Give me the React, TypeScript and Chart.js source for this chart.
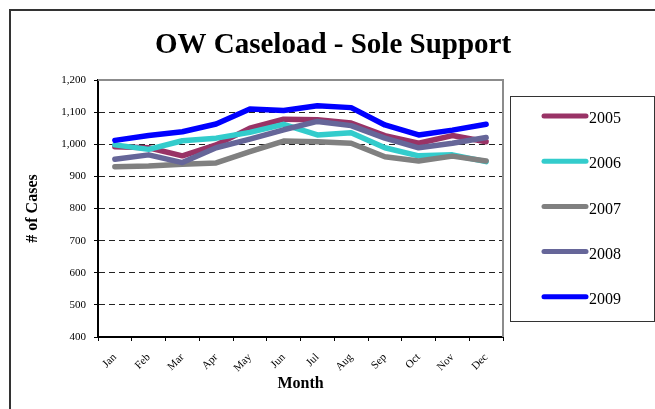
import React, { useEffect, useRef } from "react";
import { Chart, registerables } from "chart.js";

Chart.register(...registerables);

const months = ["Jan", "Feb", "Mar", "Apr", "May", "Jun", "Jul", "Aug", "Sep", "Oct", "Nov", "Dec"];
const seriesNames = ["2005", "2006", "2007", "2008", "2009"];
const v2005 = [992, 989, 964, 998, 1050, 1078, 1076, 1066, 1027, 1003, 1027, 1008];
const v2006 = [998, 984, 1011, 1019, 1037, 1062, 1029, 1036, 989, 964, 967, 946];
const v2007 = [930, 932, 938, 942, 977, 1010, 1008, 1003, 961, 948, 963, 948];
const v2008 = [953, 967, 943, 989, 1016, 1045, 1071, 1058, 1019, 989, 1003, 1021];
const v2009 = [1012, 1027, 1039, 1063, 1110, 1105, 1120, 1114, 1060, 1029, 1044, 1062];
const seriesValues = [v2005, v2006, v2007, v2008, v2009];
const seriesColors = ["#993366", "#33CCCC", "#808080", "#666699", "#0000FF"];
const yMin = 400;
const yMax = 1200;
const yStep = 100;
const chartTitle = "OW Caseload - Sole Support";
const xTitle = "Month";
const yTitle = "# of Cases";

const SERIF = "'Liberation Serif', 'Times New Roman', serif";

const decorPlugin = {
  id: "decor",
  beforeDraw(chart: any) {
    const ctx = chart.ctx;
    ctx.save();
    ctx.fillStyle = "#ffffff";
    ctx.fillRect(0, 0, chart.width, chart.height);
    ctx.restore();
  },
  afterDatasetsDraw(chart: any) {
    const { ctx, chartArea } = chart;
    ctx.save();
    ctx.strokeStyle = "#8c8c8c";
    ctx.lineWidth = 2;
    ctx.beginPath();
    ctx.moveTo(chartArea.left, chartArea.top);
    ctx.lineTo(chartArea.right, chartArea.top);
    ctx.lineTo(chartArea.right, chartArea.bottom);
    ctx.stroke();
    ctx.restore();
  },
  afterDraw(chart: any) {
    const ctx = chart.ctx;
    ctx.save();
    ctx.strokeStyle = "#333333";
    ctx.lineWidth = 2;
    ctx.strokeRect(10, 10, 700, 500);

    ctx.fillStyle = "#000000";
    ctx.font = `bold 29px ${SERIF}`;
    ctx.textAlign = "center";
    ctx.textBaseline = "alphabetic";
    ctx.fillText(chartTitle, 333, 53);

    ctx.strokeStyle = "#333333";
    ctx.lineWidth = 1;
    ctx.strokeRect(510.5, 96.5, 144, 225);

    const datasets = chart.data.datasets;
    ctx.font = `16px ${SERIF}`;
    ctx.textAlign = "left";
    ctx.textBaseline = "middle";
    datasets.forEach((ds: any, i: number) => {
      const y = 116 + i * 45.2;
      ctx.strokeStyle = ds.borderColor;
      ctx.lineWidth = 5;
      ctx.lineCap = "round";
      ctx.beginPath();
      ctx.moveTo(544, y);
      ctx.lineTo(586, y);
      ctx.stroke();
      ctx.fillStyle = "#000000";
      ctx.fillText(ds.label, 589, y + 3);
    });
    ctx.restore();
  },
};

export default function App() {
  const canvasRef = useRef<HTMLCanvasElement | null>(null);

  useEffect(() => {
    const canvas = canvasRef.current;
    if (!canvas) return;
    const chart = new Chart(canvas, {
      type: "line",
      data: {
        labels: months,
        datasets: seriesNames.map((name, i) => ({
          label: name,
          data: seriesValues[i],
          borderColor: seriesColors[i],
          backgroundColor: seriesColors[i],
          borderWidth: 5.5,
          pointRadius: 0,
          pointHoverRadius: 0,
          tension: 0,
          fill: false,
          borderCapStyle: "round",
          borderJoinStyle: "round",
          order: seriesNames.length - 1 - i,
        })),
      },
      options: {
        responsive: false,
        animation: false,
        devicePixelRatio: 1,
        events: [],
        layout: { padding: { top: 80, left: 0, right: 152, bottom: 0 } },
        plugins: {
          legend: { display: false },
          title: { display: false },
          tooltip: { enabled: false },
        },
        scales: {
          x: {
            offset: true,
            grid: {
              offset: true,
              drawOnChartArea: false,
              drawTicks: true,
              tickLength: 4,
              tickColor: "#000000",
              tickWidth: 1,
            },
            border: { display: true, color: "#000000", width: 2 },
            ticks: {
              color: "#000000",
              font: { family: SERIF, size: 11 },
              minRotation: 45,
              maxRotation: 45,
              autoSkip: false,
              padding: 10,
            },
            title: {
              display: true,
              text: xTitle,
              color: "#000000",
              font: { family: SERIF, size: 16, weight: "bold" },
              padding: { top: 0, bottom: 16 },
            },
            afterFit: (s: any) => {
              s.height = 72;
            },
          },
          y: {
            min: yMin,
            max: yMax,
            ticks: {
              stepSize: yStep,
              color: "#000000",
              font: { family: SERIF, size: 11 },
              padding: 8,
              callback: (v: any) => Number(v).toLocaleString("en-US"),
            },
            grid: {
              color: (c: any) => (c.tick && (c.tick.value === yMax || c.tick.value === yMin) ? "rgba(0,0,0,0)" : "#222222"),
              lineWidth: 1,
              tickBorderDash: [],
              drawTicks: true,
              tickLength: 4,
              tickColor: "#000000",
              tickWidth: 1,
            },
            border: { display: true, color: "#000000", width: 2, dash: [6, 4] },
            title: {
              display: true,
              text: yTitle,
              color: "#000000",
              font: { family: SERIF, size: 16, weight: "bold" },
              padding: { top: 23, bottom: 0 },
            },
            afterFit: (s: any) => {
              s.width = 98;
            },
          },
        },
      },
      plugins: [decorPlugin],
    } as any);
    return () => chart.destroy();
  }, []);

  return (
    <div style={{ position: "fixed", left: 0, top: 0, width: 655, height: 409 }}>
      <canvas ref={canvasRef} width={655} height={409} style={{ display: "block" }} />
    </div>
  );
}
